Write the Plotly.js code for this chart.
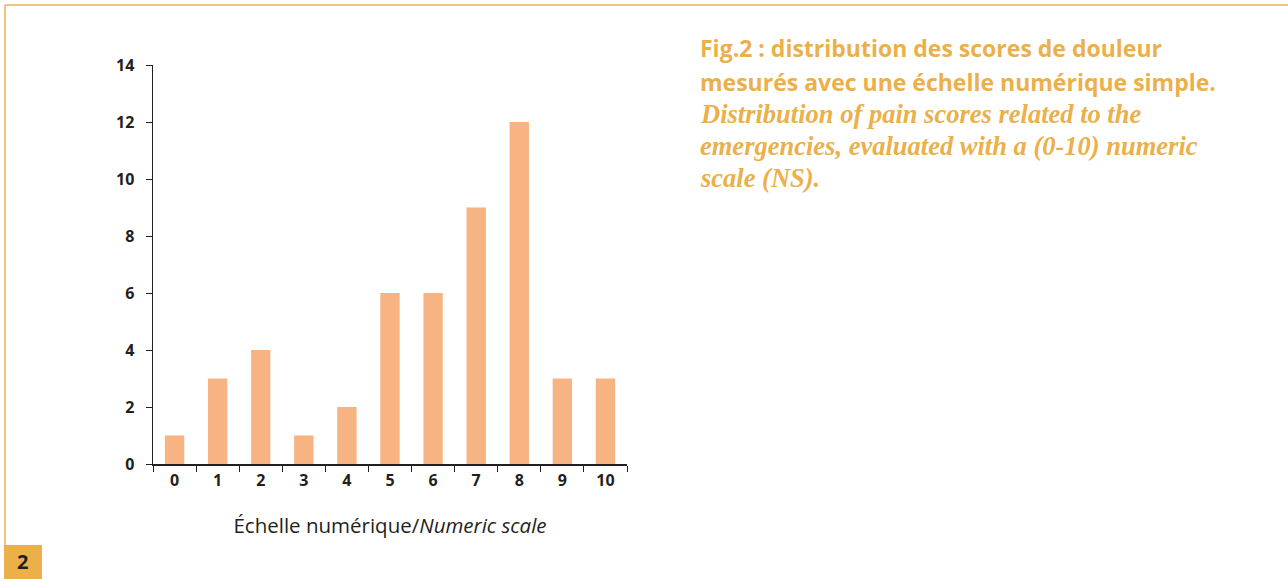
<!DOCTYPE html>
<html>
<head>
<meta charset="utf-8">
<script src="https://cdn.plot.ly/plotly-3.0.1.min.js"></script>
<style>html,body{margin:0;padding:0;background:#fff;}#chart{width:1288px;height:579px;}</style>
</head>
<body>
<div id="chart"></div>
<script>
const categories = ["0","1","2","3","4","5","6","7","8","9","10"];
const counts = [1, 3, 4, 1, 2, 6, 6, 9, 12, 3, 3];
const yTicks = [0, 2, 4, 6, 8, 10, 12, 14];
const titleFr = ["Fig.2 : distribution des scores de douleur", "mesurés avec une échelle numérique simple."];
const titleEn = ["Distribution of pain scores related to the", "emergencies, evaluated with a (0-10) numeric", "scale (NS)."];
const xTitleFr = "Échelle numérique/";
const xTitleEn = "Numeric scale";
const figNumber = "2";

const W = 1288, H = 579;
const L = 153, R = 627, T = 65, B = 464;
const px = x => (x - L) / (R - L);
const py = y => (B - y) / (B - T);
const orange = "#ebb04a";
const dark = "#231f20";
const sans = "Open Sans, Noto Sans, sans-serif";

const annotations = [];
const frY = [48, 82];
titleFr.forEach((t, i) => annotations.push({
  text: "<b>" + t + "</b>", xref: "paper", yref: "paper",
  x: px(698), y: py(frY[i]), xanchor: "left", yanchor: "middle",
  showarrow: false, font: {family: sans, size: 23, color: orange}
}));
const enY = [114, 146, 178];
titleEn.forEach((t, i) => annotations.push({
  text: "<b><i>" + t + "</i></b>", xref: "paper", yref: "paper",
  x: px(698), y: py(enY[i]), xanchor: "left", yanchor: "middle",
  showarrow: false, font: {family: "Liberation Serif, serif", size: 26.5, color: orange}
}));
annotations.push({
  text: "<b>" + figNumber + "</b>", xref: "paper", yref: "paper",
  x: px(22), y: py(561), xanchor: "center", yanchor: "middle",
  showarrow: false, font: {family: sans, size: 20, color: dark}
});

const shapes = [
  {type: "line", xref: "paper", yref: "paper", x0: px(5), x1: px(1290), y0: py(5), y1: py(5), line: {color: "#f2c47a", width: 2}},
  {type: "line", xref: "paper", yref: "paper", x0: px(5), x1: px(5), y0: py(5), y1: py(546), line: {color: "#f2c47a", width: 2}},
  {type: "rect", xref: "paper", yref: "paper", x0: px(4), x1: px(42), y0: py(545), y1: py(580), fillcolor: "#ebb048", line: {width: 0}}
];

const data = [{
  type: "bar", x: categories, y: counts,
  marker: {color: "#f8b383", line: {width: 0}},
  hoverinfo: "x+y"
}];

const layout = {
  width: W, height: H,
  margin: {l: L, r: W - R, t: T, b: H - B, pad: 0},
  paper_bgcolor: "#fff", plot_bgcolor: "#fff",
  showlegend: false,
  bargap: 0.55,
  font: {family: sans, color: dark},
  xaxis: {
    type: "category", tickson: "boundaries",
    showline: true, linecolor: dark, linewidth: 1.5,
    ticks: "outside", ticklen: 6, tickwidth: 1, tickcolor: dark,
    showgrid: false, zeroline: false,
    tickfont: {family: sans, size: 16, color: dark, weight: "bold"},
    ticklabelstandoff: 1,
    title: {text: xTitleFr + "<i>" + xTitleEn + "</i>", font: {family: sans, size: 20.5, color: dark}, standoff: 29},
    range: [-0.5, 10.5]
  },
  yaxis: {
    range: [0, 14], tickvals: yTicks,
    showline: true, linecolor: dark, linewidth: 1.5,
    ticks: "outside", ticklen: 6, tickwidth: 1, tickcolor: dark,
    showgrid: false, zeroline: false,
    tickfont: {family: sans, size: 16, color: dark, weight: "bold"},
    ticklabelstandoff: 8
  },
  annotations: annotations,
  shapes: shapes
};

Plotly.newPlot("chart", data, layout, {displayModeBar: false, staticPlot: true});
</script>
</body>
</html>
